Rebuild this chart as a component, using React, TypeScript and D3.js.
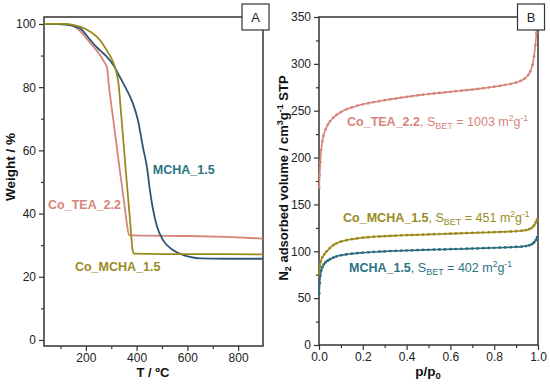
import React, { useRef, useEffect } from "react";
import * as d3 from "d3";

// TGA curves (panel A): [T in ºC, weight %]
const tgaCoTea: [number, number][] = [
  [35, 100], [100, 100], [137, 99.8], [165, 98.6], [189, 96.8], [215, 94.2], [244, 91.4],
  [262, 89.4], [275, 87.6], [283, 86.4], [290, 81], [310, 68.5], [330, 56], [350, 44],
  [362, 36.5], [370, 33.2], [450, 33], [600, 32.9], [750, 32.6], [898, 32.1],
];
const tgaCoMcha: [number, number][] = [
  [35, 100], [110, 100], [149, 99.7], [185, 98.9], [216, 97.6], [245, 95.8], [267, 93.6],
  [290, 90.6], [307, 88], [320, 84.8], [328, 81.5], [340, 70.5], [360, 51], [375, 37],
  [384, 28.5], [390, 27.3], [500, 27.2], [700, 27.2], [898, 27.1],
];
const tgaMcha: [number, number][] = [
  [35, 100], [120, 99.8], [177, 98.6], [205, 96.2], [228, 93.9], [255, 91.7], [283, 89.6],
  [310, 86.8], [334, 83.2], [362, 79], [386, 74.7], [405, 69.6], [425, 61], [441, 54.5],
  [453, 47], [463, 42], [480, 36], [504, 31.6], [543, 28.5], [580, 27], [610, 26.3],
  [650, 25.8], [750, 25.7], [898, 25.7],
];

// N2 isotherms (panel B): [p/p0, volume]
const isoCoTea: [number, number][] = [
  [0.001, 168], [0.003, 181], [0.006, 195], [0.01, 208], [0.015, 217], [0.02, 223],
  [0.03, 230], [0.04, 235], [0.05, 238.5], [0.065, 242.5], [0.08, 245.5], [0.1, 248.5],
  [0.125, 251.5], [0.15, 253.5], [0.175, 255.3], [0.2, 256.8], [0.225, 258], [0.25, 259.2],
  [0.275, 260.2], [0.3, 261.2], [0.325, 262.1], [0.35, 263], [0.375, 263.9], [0.4, 264.8],
  [0.425, 265.6], [0.45, 266.4], [0.475, 267.1], [0.5, 267.8], [0.525, 268.4], [0.55, 269],
  [0.575, 269.6], [0.6, 270.2], [0.625, 270.8], [0.65, 271.4], [0.675, 272], [0.7, 272.6],
  [0.725, 273.3], [0.75, 274], [0.775, 274.8], [0.8, 275.6], [0.825, 276.5], [0.85, 277.5],
  [0.875, 278.6], [0.9, 280], [0.92, 281.8], [0.94, 284.5], [0.955, 288], [0.965, 292],
  [0.975, 299], [0.982, 308], [0.988, 320], [0.993, 333], [0.997, 346],
];
const isoCoMcha: [number, number][] = [
  [0.001, 74], [0.004, 84], [0.008, 89], [0.015, 93.5], [0.025, 97], [0.035, 100],
  [0.05, 103.5], [0.065, 106.5], [0.08, 108.5], [0.1, 110.3], [0.125, 111.8], [0.15, 112.9],
  [0.175, 113.8], [0.2, 114.5], [0.225, 115], [0.25, 115.5], [0.275, 115.8], [0.3, 116.1],
  [0.325, 116.4], [0.35, 116.7], [0.375, 117], [0.4, 117.2], [0.425, 117.4], [0.45, 117.6],
  [0.475, 117.8], [0.5, 118], [0.525, 118.2], [0.55, 118.4], [0.575, 118.6], [0.6, 118.8],
  [0.625, 119], [0.65, 119.2], [0.675, 119.4], [0.7, 119.6], [0.725, 119.8], [0.75, 120],
  [0.775, 120.2], [0.8, 120.4], [0.825, 120.6], [0.85, 120.8], [0.875, 121.1], [0.9, 121.4],
  [0.925, 121.9], [0.945, 122.6], [0.96, 123.6], [0.972, 125], [0.982, 127.5], [0.99, 131],
  [0.996, 134],
];
const isoMcha: [number, number][] = [
  [0.001, 55], [0.003, 66], [0.006, 74], [0.01, 79.5], [0.015, 83], [0.022, 86],
  [0.03, 88.3], [0.04, 90], [0.05, 91.5], [0.065, 93.2], [0.08, 94.5], [0.1, 95.7],
  [0.125, 96.7], [0.15, 97.4], [0.175, 98], [0.2, 98.5], [0.225, 98.9], [0.25, 99.3],
  [0.275, 99.6], [0.3, 99.9], [0.325, 100.2], [0.35, 100.4], [0.375, 100.6], [0.4, 100.8],
  [0.425, 101], [0.45, 101.2], [0.475, 101.4], [0.5, 101.6], [0.525, 101.8], [0.55, 101.9],
  [0.575, 102], [0.6, 102.2], [0.625, 102.4], [0.65, 102.5], [0.675, 102.7], [0.7, 102.9],
  [0.725, 103.1], [0.75, 103.3], [0.775, 103.5], [0.8, 103.7], [0.825, 103.9], [0.85, 104.1],
  [0.875, 104.3], [0.9, 104.6], [0.925, 105], [0.945, 105.6], [0.96, 106.4], [0.972, 107.6],
  [0.982, 109.5], [0.99, 112], [0.996, 115],
];

const tgaXTicks = [200, 400, 600, 800];
const tgaXMinor = [100, 300, 500, 700];
const tgaYTicks = [0, 20, 40, 60, 80, 100];
const tgaYMinor = [10, 30, 50, 70, 90];
const isoXTicks = [0, 0.2, 0.4, 0.6, 0.8, 1.0];
const isoXMinor = [0.1, 0.3, 0.5, 0.7, 0.9];
const isoYTicks = [0, 50, 100, 150, 200, 250, 300, 350];
const isoYMinor = [25, 75, 125, 175, 225, 275, 325];

const SALMON = "#d6857b";
const OLIVE = "#9b8a1d";
const NAVY = "#2f5676";
const TEAL = "#2a6b7d";
const TEAL_TXT = "#2b7483";
const AXIS = "#333";
const FONT = "'Liberation Sans', Arial, sans-serif";

const App = () => {
  const svgRef = useRef<SVGSVGElement>(null);

  useEffect(() => {
    const svg = d3.select(svgRef.current);
    svg.selectAll("*").remove();
    svg.attr("width", 550).attr("height", 385).style("font-family", FONT);

    const drawFrame = (
      x: d3.ScaleLinear<number, number>,
      y: d3.ScaleLinear<number, number>,
      xt: number[], xm: number[], yt: number[], ym: number[],
      xfmt: (d: number) => string
    ) => {
      const [x0, x1] = x.range();
      const [y0, y1] = y.range();
      const g = svg.append("g");
      g.append("g")
        .attr("transform", `translate(0,${y0})`)
        .call(d3.axisBottom(x).tickValues(xt).tickFormat(xfmt as any).tickSize(5).tickPadding(2.5))
        .call(a => a.select(".domain").remove());
      g.append("g")
        .attr("transform", `translate(0,${y0})`)
        .call(d3.axisBottom(x).tickValues(xm).tickFormat(() => "").tickSize(3))
        .call(a => a.select(".domain").remove());
      g.append("g")
        .attr("transform", `translate(${x0},0)`)
        .call(d3.axisLeft(y).tickValues(yt).tickSize(5).tickPadding(3))
        .call(a => a.select(".domain").remove());
      g.append("g")
        .attr("transform", `translate(${x0},0)`)
        .call(d3.axisLeft(y).tickValues(ym).tickFormat(() => "").tickSize(3))
        .call(a => a.select(".domain").remove());
      g.selectAll("text").attr("font-size", 12).attr("fill", "#222").style("font-family", FONT);
      g.selectAll("line").attr("stroke", AXIS).attr("stroke-width", 1.2);
      svg.append("rect")
        .attr("x", x0).attr("y", y1)
        .attr("width", x1 - x0).attr("height", y0 - y1)
        .attr("fill", "none").attr("stroke", AXIS).attr("stroke-width", 1.5);
    };

    const labelBox = (cx: number, txt: string) => {
      svg.append("rect").attr("x", cx - 13.5).attr("y", 4).attr("width", 27).attr("height", 26)
        .attr("fill", "#fff").attr("stroke", AXIS).attr("stroke-width", 1.2);
      svg.append("text").attr("x", cx).attr("y", 22).attr("text-anchor", "middle")
        .attr("font-size", 13).attr("fill", "#222").text(txt);
    };

    // ---- Panel A ----
    const xA = d3.scaleLinear().domain([35, 898]).range([44, 263]);
    const yA = d3.scaleLinear().domain([-1.9, 102.2]).range([346, 17]);
    drawFrame(xA, yA, tgaXTicks, tgaXMinor, tgaYTicks, tgaYMinor, d => String(d));

    const lineA = d3.line<[number, number]>().x(d => xA(d[0])).y(d => yA(d[1])).curve(d3.curveMonotoneX);
    const gA = svg.append("g");
    [[tgaCoTea, SALMON], [tgaMcha, NAVY], [tgaCoMcha, OLIVE]].forEach(([data, c]: any) => {
      gA.append("path").datum(data).attr("d", lineA).attr("fill", "none")
        .attr("stroke", c).attr("stroke-width", 1.8);
    });

    const annA: [string, number, number, string][] = [
      ["MCHA_1.5", 464, 52.5, TEAL_TXT],
      ["Co_TEA_2.2", 51, 41.5, SALMON],
      ["Co_MCHA_1.5", 157, 21.8, OLIVE],
    ];
    annA.forEach(([t, tx, ty, c]) => {
      svg.append("text").attr("x", xA(tx)).attr("y", yA(ty)).attr("fill", c)
        .attr("font-size", 12.5).attr("font-weight", "bold").text(t);
    });

    svg.append("text").attr("transform", `translate(15,167) rotate(-90)`).attr("text-anchor", "middle")
      .attr("font-size", 13.5).attr("font-weight", "bold").attr("fill", "#111").text("Weight / %");
    svg.append("text").attr("x", 153).attr("y", 377).attr("text-anchor", "middle")
      .attr("font-size", 13).attr("font-weight", "bold").attr("fill", "#111").text("T / ºC");
    labelBox(255.5, "A");

    // ---- Panel B ----
    const xB = d3.scaleLinear().domain([0, 1]).range([319, 538]);
    const yB = d3.scaleLinear().domain([0, 350]).range([345, 17]);
    drawFrame(xB, yB, isoXTicks, isoXMinor, isoYTicks, isoYMinor, d => d.toFixed(1));

    const lineB = d3.line<[number, number]>().x(d => xB(d[0])).y(d => yB(d[1])).curve(d3.curveMonotoneX);
    const gB = svg.append("g");
    [[isoCoTea, SALMON], [isoCoMcha, OLIVE], [isoMcha, TEAL]].forEach(([data, c]: any) => {
      gB.append("path").datum(data).attr("d", lineB).attr("fill", "none")
        .attr("stroke", c).attr("stroke-width", 1.6);
      gB.selectAll(null).data(data).enter().append("circle")
        .attr("cx", (d: any) => xB(d[0])).attr("cy", (d: any) => yB(d[1]))
        .attr("r", 1.4).attr("fill", c);
    });

    const annB: [string, string, number, number, string][] = [
      ["Co_TEA_2.2", "1003", 0.128, 233.5, SALMON],
      ["Co_MCHA_1.5", "451", 0.11, 131, OLIVE],
      ["MCHA_1.5", "402", 0.137, 78, TEAL_TXT],
    ];
    annB.forEach(([name, s, px, py, c]) => {
      const t = svg.append("text").attr("x", xB(px)).attr("y", yB(py)).attr("fill", c).attr("font-size", 12.5);
      t.append("tspan").attr("font-weight", "bold").text(name);
      t.append("tspan").text(", S");
      t.append("tspan").attr("font-size", 9).attr("dy", 3).text("BET");
      t.append("tspan").attr("dy", -3).text(` = ${s} m`);
      t.append("tspan").attr("font-size", 8.5).attr("dy", -5).text("2");
      t.append("tspan").attr("dy", 5).text("g");
      t.append("tspan").attr("font-size", 8.5).attr("dy", -5).text("-1");
    });

    const yt = svg.append("text").attr("transform", `translate(288,178) rotate(-90)`).attr("text-anchor", "middle")
      .attr("font-size", 13).attr("font-weight", "bold").attr("fill", "#111");
    yt.append("tspan").text("N");
    yt.append("tspan").attr("font-size", 9).attr("dy", 3).text("2");
    yt.append("tspan").attr("dy", -3).text(" adsorbed volume / cm");
    yt.append("tspan").attr("font-size", 9).attr("dy", -5).text("3");
    yt.append("tspan").attr("dy", 5).text("g");
    yt.append("tspan").attr("font-size", 9).attr("dy", -5).text("-1");
    yt.append("tspan").attr("dy", 5).text(" STP");

    const xt = svg.append("text").attr("x", 428).attr("y", 376).attr("text-anchor", "middle")
      .attr("font-size", 13.5).attr("font-weight", "bold").attr("fill", "#111");
    xt.append("tspan").text("p/p");
    xt.append("tspan").attr("font-size", 9.5).attr("dy", 3).text("0");
    labelBox(531, "B");
  }, []);

  return (
    <div>
      <style>{"body{margin:0}"}</style>
      <svg ref={svgRef}></svg>
    </div>
  );
};

export default App;
